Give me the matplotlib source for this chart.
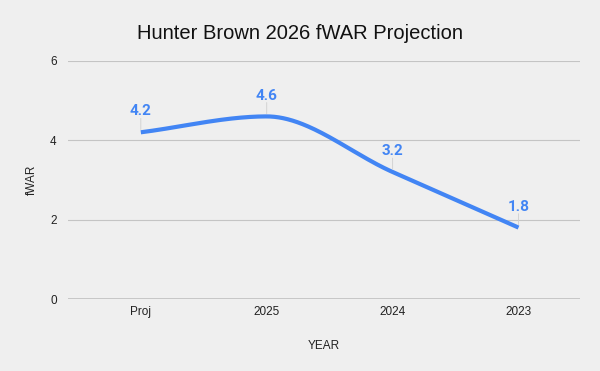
import numpy as np
import matplotlib
matplotlib.use("Agg")
from matplotlib import pyplot as plt

# Data
years = ['Proj', '2025', '2024', '2023']
fwar = [4.2, 4.6, 3.2, 1.8]

plt.rcParams['font.family'] = ['Liberation Sans', 'DejaVu Sans']

bg = '#efefef'
blue = '#4285f4'


def pchip(x, y, n=200):
    # monotone cubic so the curve looks like the sheets "smooth" line
    x = np.asarray(x, float)
    y = np.asarray(y, float)
    h = np.diff(x)
    d = np.diff(y) / h
    m = np.zeros_like(y)
    m[0], m[-1] = d[0], d[-1]
    for i in range(1, len(y) - 1):
        if d[i - 1] * d[i] <= 0:
            m[i] = 0
        else:
            m[i] = 2 / (1 / d[i - 1] + 1 / d[i])
    xs, ys = [], []
    for i in range(len(h)):
        t = np.linspace(0, 1, n)
        h00 = 2 * t**3 - 3 * t**2 + 1
        h10 = t**3 - 2 * t**2 + t
        h01 = -2 * t**3 + 3 * t**2
        h11 = t**3 - t**2
        xs.append(x[i] + t * h[i])
        ys.append(h00 * y[i] + h10 * h[i] * m[i] + h01 * y[i + 1] + h11 * h[i] * m[i + 1])
    return np.concatenate(xs), np.concatenate(ys)


fig = plt.figure(figsize=(6, 3.71), dpi=100, facecolor=bg)
ax = fig.add_axes([0.113, 0.194, 0.854, 0.642], facecolor=bg)

idx = np.arange(len(years))
sx, sy = pchip(idx, fwar)
ax.plot(sx, sy, color=blue, lw=3, solid_capstyle='butt', zorder=3)

for i, v in zip(idx, fwar):
    ax.annotate('{:.1f}'.format(v), (i, v), xytext=(0, 10), textcoords='offset points',
                ha='center', va='bottom', color=blue, fontsize=11, fontweight='bold',
                family=['Roboto', 'DejaVu Sans'])
    ax.annotate('', (i, v), xytext=(0, 10), textcoords='offset points',
                arrowprops=dict(arrowstyle='-', color='#cfcfcf', lw=0.6, shrinkA=0, shrinkB=2))

ax.set_xlim(-0.58, 3.49)
ax.set_ylim(0, 6)
ax.set_yticks([0, 2, 4, 6])
ax.set_xticks(idx)
ax.set_xticklabels(years)
ax.grid(axis='y', color='#c4c4c4', lw=0.8)
ax.set_axisbelow(True)
ax.axhline(0, color='#333333', lw=1, zorder=2)
for s in ax.spines.values():
    s.set_visible(False)
ax.tick_params(axis='both', length=0, labelsize=8.5, colors='#222222')
ax.tick_params(axis='y', pad=8)
ax.tick_params(axis='x', pad=5)

ax.set_xlabel('YEAR', fontsize=8.5, labelpad=16, color='#222222')
ax.set_ylabel('fWAR', fontsize=8.5, labelpad=9, color='#222222')
fig.suptitle('Hunter Brown 2026 fWAR Projection', x=0.5, y=0.935, fontsize=14.5, color='#111111')

plt.savefig('out.png', dpi=100, facecolor=bg)
